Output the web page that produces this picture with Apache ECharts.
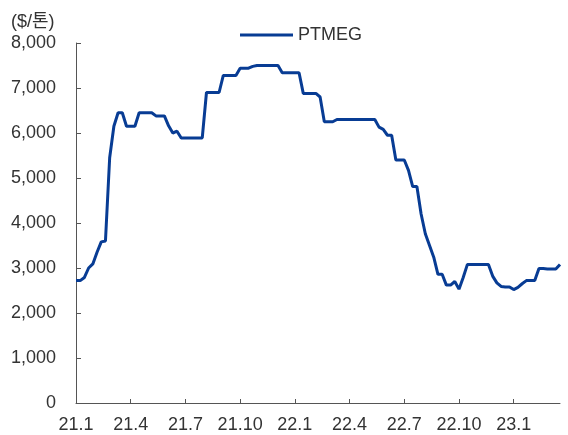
<!DOCTYPE html>
<html>
<head>
<meta charset="utf-8">
<script src="https://cdn.jsdelivr.net/npm/echarts@6/dist/echarts.min.js"></script>
<style>
  html, body { margin: 0; padding: 0; background: #fff; }
  #chart { width: 568px; height: 435px; }
</style>
</head>
<body>
<div id="chart"></div>
<script>
// 분기 눈금 라벨 (13주 간격)
const tickLabels = ['21.1', '21.4', '21.7', '21.10', '22.1', '22.4', '22.7', '22.10', '23.1']
const weeksPerTick = 13

// PTMEG 주간 가격 ($/톤), 2021.1 ~ 2023.3
const ptmeg = [
  2720, 2720, 2790, 3000, 3090, 3350, 3580, 3600, 5450, 6150,
  6450, 6450, 6150, 6150, 6150, 6450, 6450, 6450, 6450, 6380,
  6380, 6380, 6160, 6000, 6040, 5890, 5890, 5890, 5890, 5890,
  5890, 6900, 6900, 6900, 6900, 7280, 7280, 7280, 7280, 7440,
  7440, 7440, 7480, 7500, 7500, 7500, 7500, 7500, 7500, 7340,
  7340, 7340, 7340, 7340, 6880, 6880, 6880, 6880, 6800, 6250,
  6250, 6250, 6300, 6300, 6300, 6300, 6300, 6300, 6300, 6300,
  6300, 6300, 6130, 6080, 5950, 5950, 5400, 5400, 5400, 5170,
  4810, 4810, 4200, 3760, 3500, 3240, 2860, 2860, 2620, 2620,
  2700, 2530, 2790, 3080, 3080, 3080, 3080, 3080, 3080, 2820,
  2670, 2590, 2580, 2580, 2520, 2570, 2650, 2720, 2720, 2720,
  2990, 2990, 2980, 2980, 2980, 3080
]

// 카테고리: 분기 시작 주에만 라벨
const categories = ptmeg.map((v, i) => (i % weeksPerTick === 0 ? (tickLabels[i / weeksPerTick] || '') : ''))

const font = 'Liberation Sans, Arial, Noto Sans CJK KR, sans-serif'
const chart = echarts.init(document.getElementById('chart'))

chart.setOption({
  animation: false,
  title: {
    text: '($/톤)',
    left: 6,
    top: 8,
    textStyle: { fontSize: 18, fontWeight: 'normal', color: '#333', fontFamily: font }
  },
  legend: {
    data: ['PTMEG'],
    left: 235,
    top: 21,
    icon: 'rect',
    itemWidth: 53,
    itemHeight: 3,
    textStyle: { fontSize: 18, color: '#333', fontFamily: font }
  },
  grid: { left: 76, right: 8, top: 43, bottom: 32, containLabel: false },
  xAxis: {
    type: 'category',
    data: categories,
    boundaryGap: false,
    axisLine: { lineStyle: { color: '#555' } },
    axisTick: {
      inside: true,
      length: 4,
      interval: (i) => i % weeksPerTick === 0,
      lineStyle: { color: '#555' }
    },
    axisLabel: {
      interval: (i, v) => v !== '',
      margin: 13,
      fontSize: 18,
      color: '#333',
      fontFamily: font
    },
    splitLine: { show: false }
  },
  yAxis: {
    type: 'value',
    min: 0,
    max: 8000,
    interval: 1000,
    axisLine: { show: true, lineStyle: { color: '#555' } },
    axisTick: { show: true, inside: true, length: 5, lineStyle: { color: '#555' } },
    axisLabel: {
      margin: 20,
      fontSize: 18,
      color: '#333',
      fontFamily: font,
      formatter: v => v.toLocaleString('en-US')
    },
    splitLine: { show: false }
  },
  series: [{
    name: 'PTMEG',
    type: 'line',
    data: ptmeg,
    symbol: 'none',
    smooth: false,
    lineStyle: { color: '#083c94', width: 3 },
    itemStyle: { color: '#083c94' }
  }]
})
</script>
</body>
</html>
